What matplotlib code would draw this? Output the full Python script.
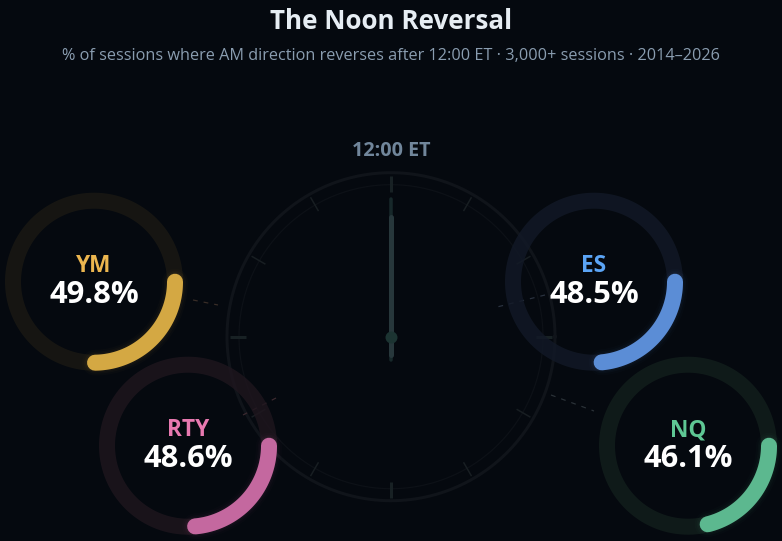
import numpy as np
import matplotlib
matplotlib.use("Agg")
import matplotlib.pyplot as plt

# values from the chart
symbols = ["YM", "ES", "RTY", "NQ"]
reversal_pct = [49.8, 48.5, 48.6, 46.1]
colors = ["#d4a843", "#5b8dd6", "#c4689f", "#5cb88f"]
label_colors = ["#ecb64f", "#5ba4f5", "#e879b0", "#5ec794"]
tracks = ["#1b1913", "#121927", "#1f161e", "#121f1c"]
link_colors = ["#3a2e28", "#2b3340", "#3d2a30", "#2b3238"]
title = "The Noon Reversal"
subtitle = "% of sessions where AM direction reverses after 12:00 ET · 3,000+ sessions · 2014–2026"
clock_label = "12:00 ET"

BG = "#05090f"
plt.rcParams["font.family"] = ["Open Sans", "DejaVu Sans"]

PX = 72 / 100  # line widths are in points, picture is 100 dpi

fig = plt.figure(figsize=(7.82, 5.41), dpi=100, facecolor=BG)
ax = fig.add_axes([0, 0, 1, 1])
ax.set_xlim(0, 782)
ax.set_ylim(541, 0)
ax.axis("off")

# clock face
cx, cy = 391, 336.7
t = np.linspace(0, 2 * np.pi, 400)
ax.plot(cx + 164 * np.cos(t), cy + 164 * np.sin(t), color="#10141a", lw=3 * PX, zorder=1)
ax.plot(cx + 152 * np.cos(t), cy + 152 * np.sin(t), color="#0d1117", lw=1.2 * PX, zorder=1)
for h in range(12):
    a = np.radians(h * 30)
    big = h % 3 == 0
    ax.plot([cx + 145 * np.sin(a), cx + 161 * np.sin(a)],
            [cy - 145 * np.cos(a), cy - 161 * np.cos(a)],
            color="#182124" if big else "#181e22", lw=(3 if big else 1.5) * PX,
            solid_capstyle="butt", zorder=2)

# hand
ax.plot([cx, cx], [199, 360], color="#17282a", lw=3.5 * PX, solid_capstyle="round", zorder=3)
ax.plot([cx, cx], [217, 355], color="#27373b", lw=5 * PX, solid_capstyle="round", zorder=3)
ax.plot([cx], [cy], "o", color="#1c3432", ms=12 * PX, mew=0, zorder=4)

ax.text(cx, 151.5, clock_label, color="#71869b", fontsize=14.2, fontweight="bold",
        ha="center", va="center", zorder=6)

# rings
ring_x = [94, 594, 188, 688]
ring_y = [281.7, 281.7, 445.7, 445.7]
link_from = [(193, 300), (545, 295), (276, 398), (551, 395)]
link_to = [(218, 305), (497, 307), (243, 415), (594, 411)]
R = 81
for i in range(4):
    x0, y0 = ring_x[i], ring_y[i]
    ax.plot([link_from[i][0], link_to[i][0]], [link_from[i][1], link_to[i][1]],
            color=link_colors[i], lw=1.2 * PX, ls=(0, (4, 5)), zorder=2)
    ax.plot(x0 + R * np.cos(t), y0 + R * np.sin(t), color=tracks[i], lw=16 * PX, alpha=0.8, zorder=3)
    # arc runs clockwise from 3 o'clock (25% on a full circle)
    sweep = np.radians((reversal_pct[i] - 25) * 3.6)
    s = np.linspace(0, sweep, 120)
    for w, al in [(26, 0.02), (22, 0.03), (19, 0.04)]:
        ax.plot(x0 + R * np.cos(s), y0 + R * np.sin(s), color=colors[i], lw=w * PX,
                alpha=al, solid_capstyle="round", zorder=4)
    ax.plot(x0 + R * np.cos(s), y0 + R * np.sin(s), color=colors[i], lw=16 * PX,
            solid_capstyle="round", zorder=5)
    ax.text(x0, y0 - 15.5, symbols[i], color=label_colors[i], fontsize=16.3, fontweight="bold",
            ha="center", va="center", zorder=6)
    ax.text(x0, y0 + 13, "%.1f%%" % reversal_pct[i], color="white", fontsize=22.2, fontweight="bold",
            ha="center", va="center", zorder=6)

ax.text(391, 21.5, title, color="#e6edf3", fontsize=18.7, fontweight="bold", ha="center", va="center")
ax.text(391, 55.5, subtitle, color="#8a9db0", fontsize=11.7, ha="center", va="center")

fig.savefig("out.png", dpi=100, facecolor=BG)
